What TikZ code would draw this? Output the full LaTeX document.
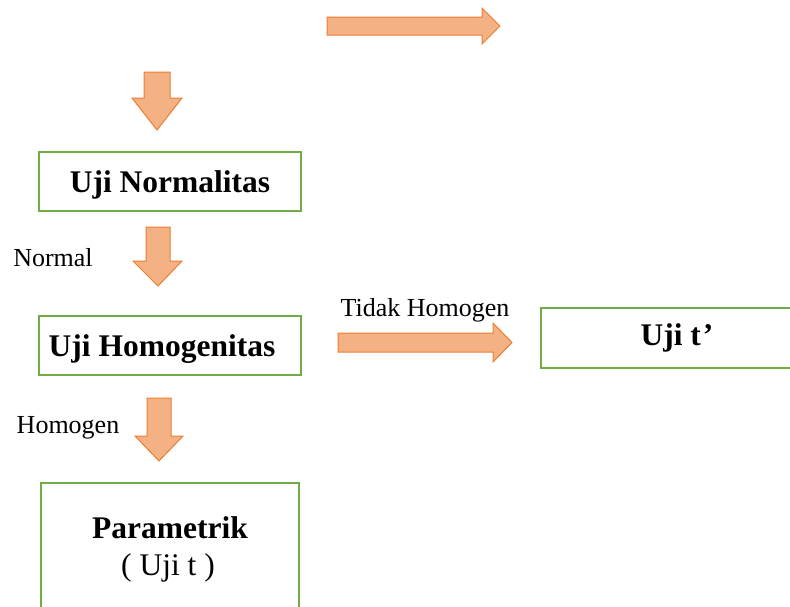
\documentclass[tikz,border=0pt]{standalone}
\usepackage{fontspec}
\setmainfont{Liberation Serif}
\begin{document}
\begin{tikzpicture}[x=1pt,y=-1pt,
  box/.style={draw=boxgreen,line width=2.6pt,fill=white,inner sep=0pt},
  blockarrow/.style={draw=arrowline,fill=arrowfill,line width=1pt,line join=miter},
  lbl/.style={font=\fontsize{26}{30}\selectfont,inner sep=0pt},
  bigtxt/.style={font=\fontsize{31.5}{36}\selectfont\bfseries,inner sep=0pt}]
\definecolor{boxgreen}{HTML}{70AD47}
\definecolor{arrowline}{HTML}{ED7D31}
\definecolor{arrowfill}{HTML}{F4B183}
\clip (0,0) rectangle (790,606);
\fill[white] (0,0) rectangle (790,606);
% top right arrow
\draw[blockarrow] (327,17) -- (482,17) -- (482,8) -- (500,26) -- (482,44) -- (482,35) -- (327,35) -- cycle;
% down arrow 1
\draw[blockarrow] (144,72) -- (170,72) -- (170,98) -- (182,98) -- (157,130) -- (132,98) -- (144,98) -- cycle;
% box 1
\draw[box] (39,152) rectangle (301,211);
\node[bigtxt] (norm) at (170,185) {Uji Normalitas};
% down arrow 2
\draw[blockarrow] (146,227) -- (170,227) -- (170,261) -- (182,261) -- (158,286) -- (133,261) -- (146,261) -- cycle;
\node[lbl] (lnormal) at (53,258) {Normal};
% box 2
\draw[box] (39,316) rectangle (301,375);
\node[bigtxt] (homo) at (162,349) {Uji Homogenitas};
% right arrow
\draw[blockarrow] (338,333) -- (493,333) -- (493,323) -- (512,342.5) -- (493,362) -- (493,352) -- (338,352) -- cycle;
\node[lbl] (ltidak) at (425,310) {Tidak Homogen};
% box t'
\draw[box] (541,308) rectangle (800,368);
\node[bigtxt] (ujit) at (677,338) {Uji t\kern2pt’};
% down arrow 3
\draw[blockarrow] (147,398) -- (171,398) -- (171,436) -- (183,436) -- (159,461) -- (135,436) -- (147,436) -- cycle;
\node[lbl] (lhomogen) at (68,428) {Homogen};
% parametrik box
\draw[box] (41,483) rectangle (299,620);
\node[bigtxt] (param) at (170,528) {Parametrik};
\node[font=\fontsize{31.5}{36}\selectfont,inner sep=0pt] (ujitt) at (168,568) {( Uji t )};
\end{tikzpicture}
\end{document}
